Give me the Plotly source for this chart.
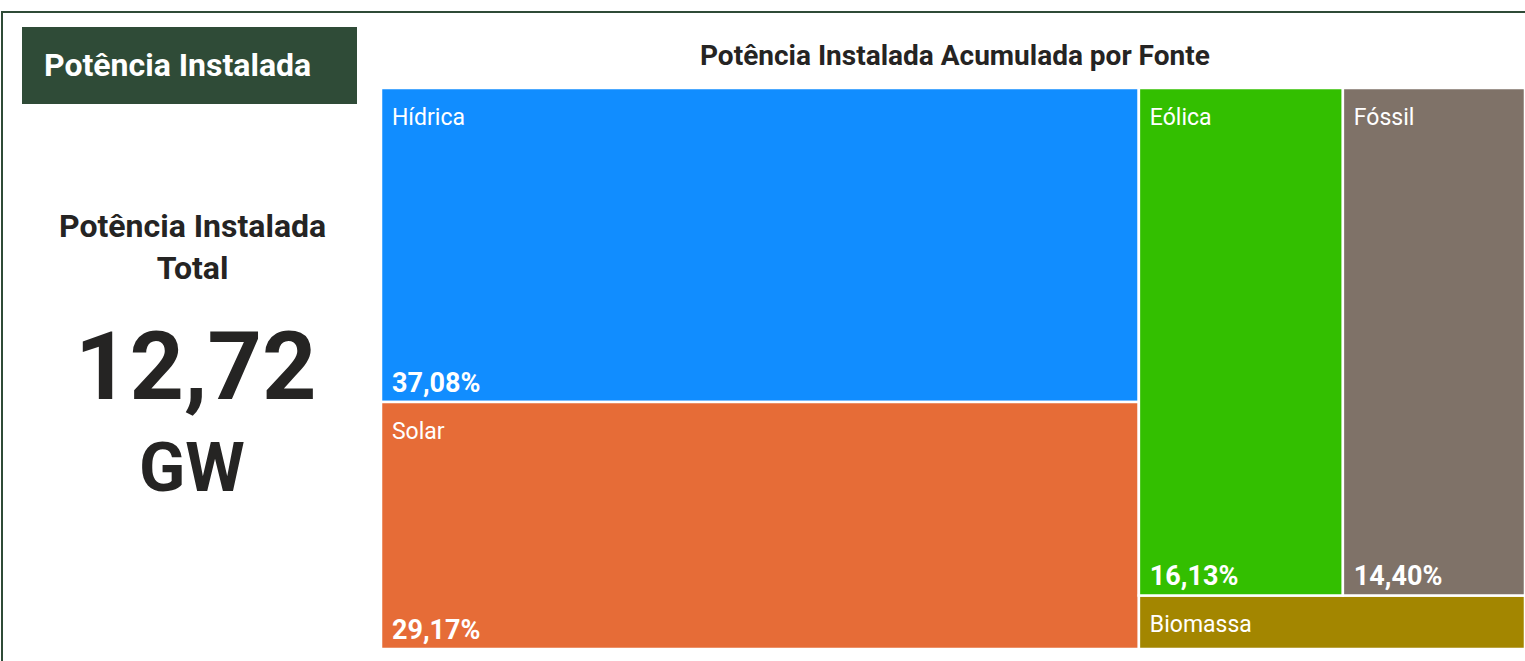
import plotly.graph_objects as go

# ---- data ----
fontes = ["Hídrica", "Solar", "Eólica", "Fóssil", "Biomassa"]
participacao = [37.08, 29.17, 16.13, 14.40, 3.22]   # % of installed capacity
cores = ["#118DFF", "#E66C37", "#33BF00", "#7F7268", "#A38600"]
grupo = ["A", "A", "B1", "B1", "B"]                   # tiling groups
mostrar_pct = [True, True, True, True, False]

total_gw = 12.72
kpi_titulo = "Potência Instalada<br>Total"
kpi_unidade = "GW"
cabecalho = "Potência Instalada"
titulo_treemap = "Potência Instalada Acumulada por Fonte"

# hierarchy used only for tiling (slice / dice alternation)
grp_ids = ["root", "A", "B", "B1"]
grp_parents = ["", "root", "root", "B"]

ids = grp_ids + fontes
parents = grp_parents + grupo
labels = ["", "", "", ""] + fontes
values = [0, 0, 0, 0] + participacao
colors = ["rgba(0,0,0,0)"] * 4 + cores

FONT = "Roboto"
W, H = 1525, 661


def px(x):
    return x / W


def py(y):
    return 1 - y / H


dom_x = [px(381), 1.0]
dom_y = [py(649), py(88)]

SP = "<span style='font-size:4px'>\u00a0</span><br>"
IND = "<span style='font-size:16px'>\u00a0\u00a0</span>"
lab_templates = [""] * 4 + [SP + IND + "%{label}" for _ in fontes]
pct_templates = [""] * 4 + [(IND + "<b>%{percentRoot:.2%}</b>") if m else "" for m in mostrar_pct]

fig = go.Figure()

# tiles with labels at the top left
fig.add_trace(go.Treemap(
    ids=ids, parents=parents, labels=labels, values=values,
    branchvalues="remainder",
    marker=dict(colors=colors, line=dict(color="white", width=2.5),
                pad=dict(t=0, l=0, r=0, b=0)),
    tiling=dict(packing="slice-dice", pad=0),
    pathbar=dict(visible=False),
    texttemplate=lab_templates,
    textposition="top left",
    textfont=dict(family=FONT, size=23, color="white"),
    hoverinfo="skip",
    sort=True,
    domain=dict(x=dom_x, y=dom_y),
))

# overlay with percentages at the bottom left
fig.add_trace(go.Treemap(
    ids=ids, parents=parents, labels=labels, values=values,
    branchvalues="remainder",
    marker=dict(colors=["rgba(0,0,0,0)"] * len(ids), line=dict(width=0),
                pad=dict(t=0, l=0, r=0, b=0)),
    tiling=dict(packing="slice-dice", pad=0),
    pathbar=dict(visible=False),
    texttemplate=pct_templates,
    textposition="bottom left",
    textfont=dict(family=FONT, size=27, color="white"),
    hoverinfo="skip",
    sort=True,
    domain=dict(x=dom_x, y=dom_y),
))

shapes = [
    # outer frame (top and left edges visible)
    dict(type="rect", xref="paper", yref="paper",
         x0=px(2), x1=1.05, y0=-0.05, y1=py(12),
         line=dict(color="#2F4B37", width=2), fillcolor="rgba(0,0,0,0)", layer="below"),
    # header box
    dict(type="rect", xref="paper", yref="paper",
         x0=px(22), x1=px(357), y0=py(104), y1=py(27),
         line=dict(width=0), fillcolor="#2F4B37", layer="below"),
]

annotations = [
    dict(text=f"<b>{cabecalho}</b>", xref="paper", yref="paper",
         x=px(42), y=py(65), xanchor="left", yanchor="middle", showarrow=False,
         font=dict(family=FONT, size=32, color="white")),
    dict(text=f"<b>{titulo_treemap}</b>", xref="paper", yref="paper",
         x=px(955), y=py(55), xanchor="center", yanchor="middle", showarrow=False,
         font=dict(family=FONT, size=28, color="#252423")),
    dict(text=f"<b>{kpi_titulo}</b>", xref="paper", yref="paper",
         x=px(192), y=py(247), xanchor="center", yanchor="middle", showarrow=False,
         font=dict(family=FONT, size=32, color="#252423")),
    dict(text="<b>" + f"{total_gw:.2f}".replace(".", ",") + "</b>", xref="paper", yref="paper",
         x=px(195), y=py(366), xanchor="center", yanchor="middle", showarrow=False,
         font=dict(family=FONT, size=95, color="#252423")),
    dict(text=f"<b>{kpi_unidade}</b>", xref="paper", yref="paper",
         x=px(192), y=py(468), xanchor="center", yanchor="middle", showarrow=False,
         font=dict(family=FONT, size=68, color="#252423")),
]

fig.update_layout(
    width=W, height=H,
    margin=dict(l=0, r=0, t=0, b=0),
    paper_bgcolor="white", plot_bgcolor="white",
    separators=",.",
    shapes=shapes, annotations=annotations,
    showlegend=False,
)

fig.write_html(
    "out.html",
    config={"displayModeBar": False},
    post_script="document.body.style.margin='0';document.body.style.overflow='hidden';",
)
